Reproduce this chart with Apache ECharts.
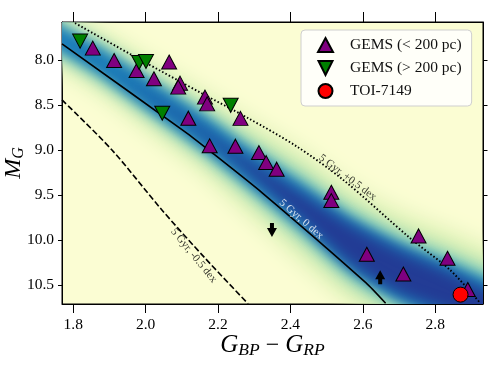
<!DOCTYPE html>
<html><head><meta charset="utf-8">
<script src="https://cdn.jsdelivr.net/npm/echarts@6/dist/echarts.min.js"></script>
<style>html,body{margin:0;padding:0;background:#fff}#c{width:498px;height:374px}</style>
</head><body><div id="c"></div>
<script>
// ---------------- data ----------------
const xTicks = [1.8, 2.0, 2.2, 2.4, 2.6, 2.8];
const yTicks = [8.0, 8.5, 9.0, 9.5, 10.0, 10.5];
const xRange = [1.769, 2.932];
const yRange = [7.577, 10.708];

// GEMS (< 200 pc)
const nearX = [1.854, 1.913, 1.975, 2.065, 2.023, 2.095, 2.090, 2.164, 2.170, 2.118, 2.262, 2.177, 2.248, 2.313, 2.333, 2.362, 2.513, 2.513, 2.754, 2.611, 2.834, 2.712, 2.890];
const nearY = [7.867, 8.004, 8.116, 8.022, 8.208, 8.256, 8.300, 8.411, 8.486, 8.645, 8.647, 8.952, 8.956, 9.027, 9.138, 9.211, 9.467, 9.560, 9.952, 10.156, 10.200, 10.375, 10.547];
// GEMS (> 200 pc)
const farX = [1.819, 1.982, 2.001, 2.046, 2.235];
const farY = [7.789, 8.027, 8.016, 8.589, 8.502];
// TOI-7149
const toiX = [2.870];
const toiY = [10.604];
// limit arrows
const downArrowX = [2.349], downArrowY = [9.887];
const upArrowX = [2.648], upArrowY = [10.410];

// isochrones (5 Gyr)
const isoSolarX = [1.769, 2.109, 2.184, 2.322, 2.609, 2.663];
const isoSolarY = [7.819, 8.797, 9.030, 9.474, 10.474, 10.700];
const isoRichX = [1.805, 1.984, 2.156, 2.283, 2.418, 2.546, 2.731, 2.841, 2.922];
const isoRichY = [7.589, 7.993, 8.371, 8.644, 8.960, 9.330, 9.978, 10.330, 10.686];
const isoPoorX = [1.769, 1.907, 2.045, 2.164, 2.283];
const isoPoorY = [8.442, 8.998, 9.664, 10.198, 10.705];

// background stellar density: ridge line and half-widths (mag) of each density level
const ridgeX = [1.650, 1.769, 1.874, 2.012, 2.150, 2.289, 2.427, 2.565, 2.703, 2.842, 2.966, 3.050];
const ridgeY = [7.497, 7.774, 8.019, 8.397, 8.776, 9.198, 9.610, 10.043, 10.355, 10.577, 10.800, 10.950];
const halfLow  = [0.32, 0.32, 0.34, 0.39, 0.44, 0.52, 0.60, 0.64, 0.66, 0.66, 0.66, 0.66];
const halfMid  = [0.20, 0.20, 0.22, 0.24, 0.27, 0.31, 0.37, 0.42, 0.44, 0.44, 0.44, 0.44];
const halfHigh = [0.14, 0.14, 0.15, 0.17, 0.19, 0.21, 0.25, 0.30, 0.32, 0.32, 0.32, 0.32];
const halfPeak = [0.00, 0.00, 0.00, 0.02, 0.04, 0.08, 0.14, 0.22, 0.24, 0.22, 0.20, 0.20];

// isochrone labels
const lblText = ['5 Gyr, +0.5 dex', '5 Gyr, 0 dex', '5 Gyr, -0.5 dex'];
const lblX = [2.558, 2.430, 2.133];
const lblY = [9.304, 9.767, 10.170];
const lblAngle = [-37, -41, -51];
const lblColor = ['#000000', '#ffffff', '#000000'];

// ---------------- build ----------------
const zip = (a, b) => a.map((v, i) => [v, b[i]]);
const SERIF = '"Liberation Serif", "DejaVu Serif", serif';
const OFF = 2000; // draw shapes off-canvas and bring back only their blurred shadow

const levels = [
  { half: halfLow,  color: '#d8efb2', blur: 22 },
  { half: halfMid,  color: '#7fcdbb', blur: 16 },
  { half: halfHigh, color: '#1b7db9', blur: 12 },
  { half: halfPeak, color: '#233c95', blur: 14 }
];

function densityItem(params, api) {
  if (params.dataIndex !== 0) return null;
  const children = levels.map(lv => {
    const upper = ridgeX.map((x, i) => api.coord([x, ridgeY[i] - lv.half[i]]));
    const lower = ridgeX.map((x, i) => api.coord([x, ridgeY[i] + lv.half[i]])).reverse();
    const pts = upper.concat(lower).map(p => [p[0] - OFF, p[1]]);
    return {
      type: 'polygon',
      shape: { points: pts, smooth: 0.25 },
      style: { fill: lv.color, shadowBlur: lv.blur, shadowColor: lv.color, shadowOffsetX: OFF, shadowOffsetY: 0 }
    };
  });
  return { type: 'group', children: children };
}

const series = [
  { type: 'custom', coordinateSystem: 'cartesian2d', data: zip(ridgeX, ridgeY), renderItem: densityItem,
    clip: true, silent: true, z: 1 },
  { type: 'line', data: zip(isoPoorX, isoPoorY), smooth: 0.3, symbol: 'none', silent: true,
    lineStyle: { color: '#000', width: 1.6, type: [6, 2.6] }, z: 3 },
  { type: 'line', data: zip(isoSolarX, isoSolarY), smooth: 0.2, symbol: 'none', silent: true,
    lineStyle: { color: '#000', width: 1.6 }, z: 3 },
  { type: 'line', data: zip(isoRichX, isoRichY), smooth: 0.3, symbol: 'none', silent: true,
    lineStyle: { color: '#000', width: 1.9, type: [1.5, 2.2] }, z: 3 },
  { type: 'scatter', data: lblText.map((t, i) => ({ value: [lblX[i], lblY[i]],
      label: { show: true, formatter: t, rotate: lblAngle[i], color: lblColor[i] } })),
    symbolSize: 0, silent: true, z: 4,
    label: { show: true, position: 'inside', fontFamily: SERIF, fontSize: 11 } },
  { name: 'GEMS (< 200 pc)', type: 'scatter', data: zip(nearX, nearY), symbol: 'triangle',
    symbolSize: [15, 14], itemStyle: { color: '#800080', borderColor: '#000', borderWidth: 1, opacity: 1 }, z: 5 },
  { name: 'GEMS (> 200 pc)', type: 'scatter', data: zip(farX, farY), symbol: 'path://M0,0L10,0L5,10Z',
    symbolSize: [15, 14], itemStyle: { color: '#008000', borderColor: '#000', borderWidth: 1, opacity: 1 }, z: 6 },
  { name: 'TOI-7149', type: 'scatter', data: zip(toiX, toiY), symbol: 'circle',
    symbolSize: 15, itemStyle: { color: '#ff0000', borderColor: '#000', borderWidth: 1, opacity: 1 }, z: 7 },
  { type: 'scatter', data: zip(downArrowX, downArrowY), symbol: 'path://M3,0L7,0L7,5L10,5L5,14L0,5L3,5Z',
    symbolSize: [10, 14], itemStyle: { color: '#000', opacity: 1 }, z: 6, silent: true },
  { type: 'scatter', data: zip(upArrowX, upArrowY), symbol: 'path://M5,0L10,9L7,9L7,14L3,14L3,9L0,9Z',
    symbolSize: [10, 14], itemStyle: { color: '#000', opacity: 1 }, z: 6, silent: true }
];

const axisFont = { fontFamily: SERIF, fontSize: 15.5, color: '#000' };

const option = {
  animation: false,
  grid: { left: 62, right: 15, top: 22, bottom: 70, containLabel: false, outerBoundsMode: 'none',
    show: true, backgroundColor: '#fbfdd3', borderColor: '#000', borderWidth: 1 },
  xAxis: [
    { type: 'value', min: xRange[0], max: xRange[1], position: 'bottom',
      axisLine: { show: true, onZero: false, lineStyle: { color: '#000', width: 1 } },
      axisTick: { show: true, length: 9, customValues: xTicks, lineStyle: { color: '#000', width: 1 } },
      axisLabel: Object.assign({ customValues: xTicks, formatter: v => v.toFixed(1), margin: 13 }, axisFont),
      splitLine: { show: false },
      name: '{i|G}{s|BP}{o|−}{i|G}{s|RP}', nameLocation: 'middle', nameGap: 28, nameMoveOverlap: false,
      nameTextStyle: { fontFamily: SERIF, rich: {
        i: { fontFamily: SERIF, fontStyle: 'italic', fontSize: 25, lineHeight: 27, color: '#000' },
        s: { fontFamily: SERIF, fontStyle: 'italic', fontSize: 17.5, lineHeight: 16, verticalAlign: 'bottom', color: '#000' },
        o: { fontFamily: SERIF, fontSize: 24, lineHeight: 27, padding: [0, 6, 0, 6], color: '#000' } } } },
    { type: 'value', min: xRange[0], max: xRange[1], position: 'top',
      axisLine: { show: true, onZero: false, lineStyle: { color: '#000', width: 1 } },
      axisTick: { show: true, length: 10, customValues: xTicks, lineStyle: { color: '#000', width: 1 } },
      axisLabel: { show: false }, splitLine: { show: false } }
  ],
  yAxis: [
    { type: 'value', min: yRange[0], max: yRange[1], inverse: true, position: 'left',
      axisLine: { show: true, onZero: false, lineStyle: { color: '#000', width: 1 } },
      axisTick: { show: true, length: 4, customValues: yTicks, lineStyle: { color: '#000', width: 1 } },
      axisLabel: Object.assign({ customValues: yTicks, formatter: v => v.toFixed(1), margin: 8 }, axisFont),
      splitLine: { show: false },
      name: '{i|M}{s|G}', nameLocation: 'middle', nameGap: 35, nameRotate: 90, nameMoveOverlap: false,
      nameTextStyle: { fontFamily: SERIF, rich: {
        i: { fontFamily: SERIF, fontStyle: 'italic', fontSize: 24, lineHeight: 27, color: '#000' },
        s: { fontFamily: SERIF, fontStyle: 'italic', fontSize: 16, lineHeight: 16, verticalAlign: 'bottom', color: '#000' } } } },
    { type: 'value', min: yRange[0], max: yRange[1], inverse: true, position: 'right',
      axisLine: { show: true, onZero: false, lineStyle: { color: '#000', width: 1 } },
      axisTick: { show: true, length: 4.5, customValues: yTicks, lineStyle: { color: '#000', width: 1 } },
      axisLabel: { show: false }, splitLine: { show: false } }
  ],
  legend: {
    left: 301, top: 30, orient: 'vertical', selectedMode: false,
    backgroundColor: 'rgba(255,255,255,0.85)', borderColor: '#cfcfcf', borderWidth: 1, borderRadius: 4,
    padding: [7, 10, 7, 16], itemWidth: 15, itemHeight: 14, itemGap: 7,
    textStyle: { fontFamily: SERIF, fontSize: 15.5, lineHeight: 16, color: '#111', padding: [0, 0, 0, 12] },
    data: [
      { name: 'GEMS (< 200 pc)', icon: 'triangle' },
      { name: 'GEMS (> 200 pc)', icon: 'path://M0,0L10,0L5,10Z' },
      { name: 'TOI-7149', icon: 'circle' }
    ]
  },
  series: series
};

const chart = echarts.init(document.getElementById('c'), null, { renderer: 'canvas' });
chart.setOption(option);
</script>
</body></html>
